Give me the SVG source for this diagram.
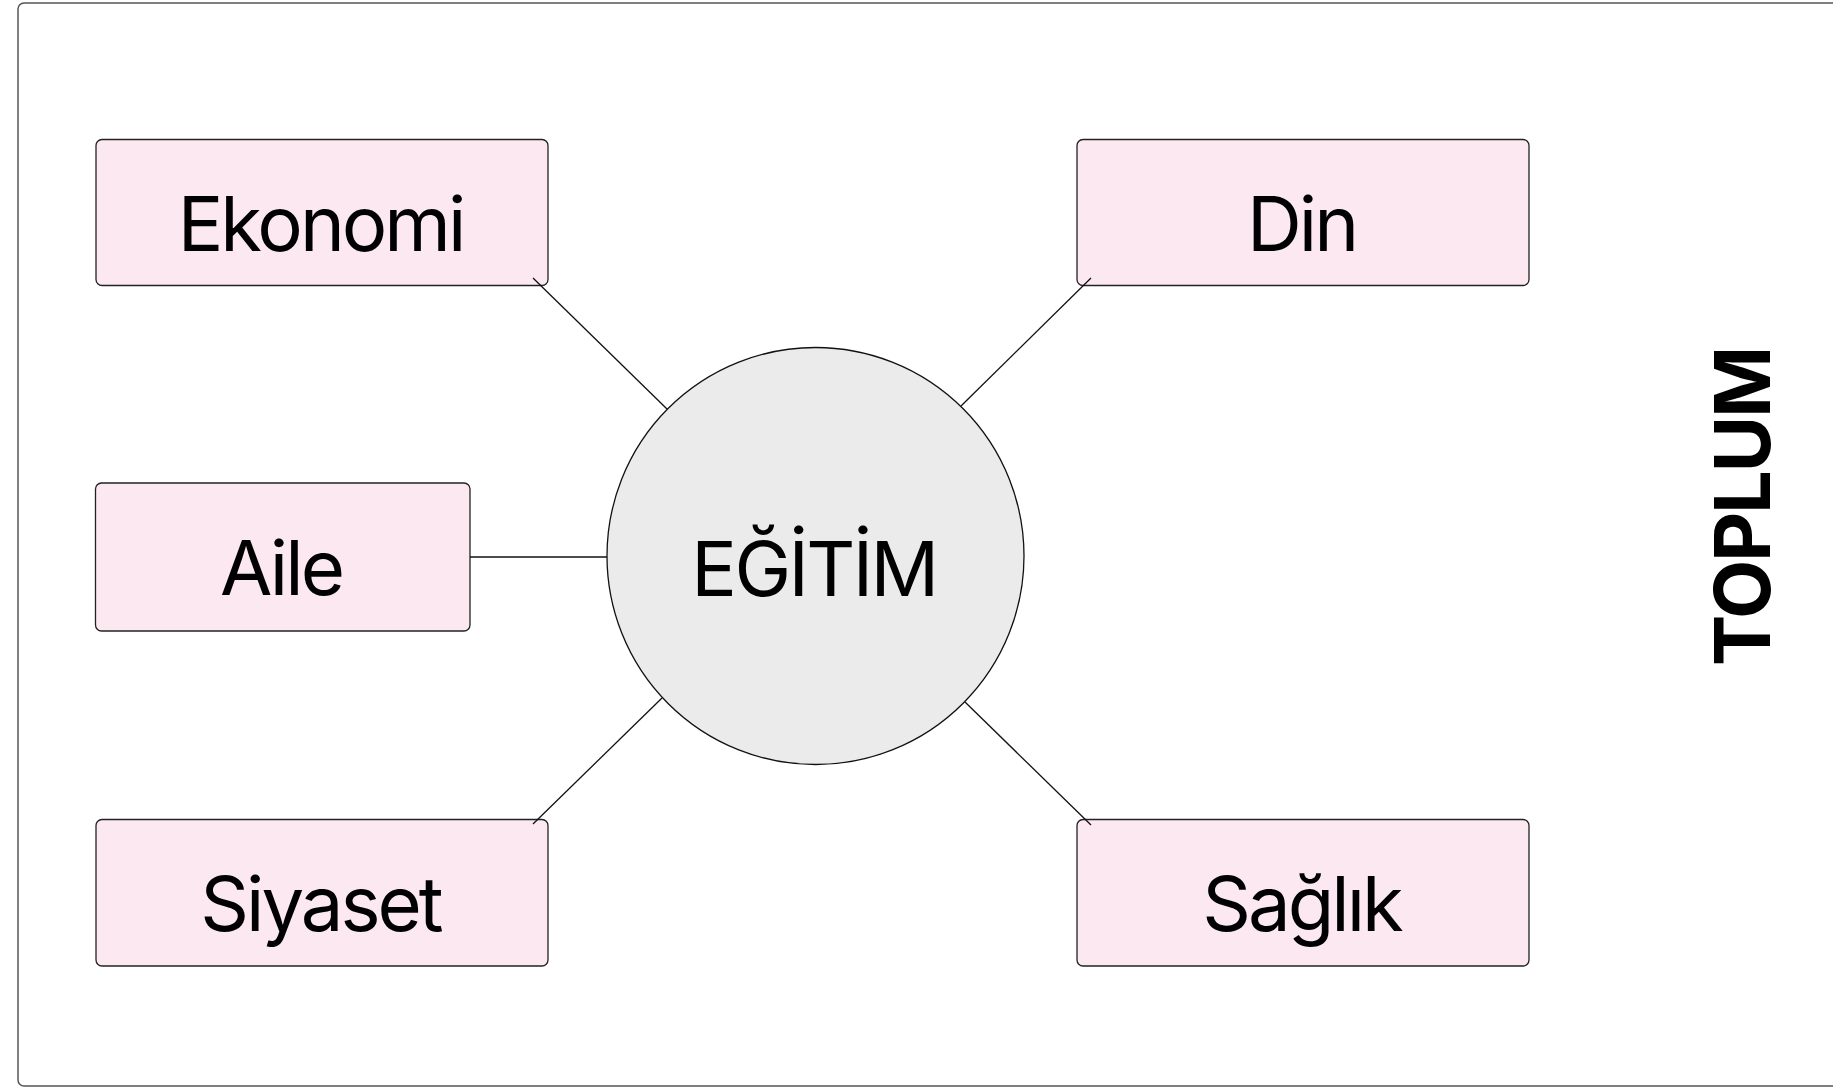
<svg xmlns="http://www.w3.org/2000/svg" width="1833" height="1088" viewBox="0 0 1833 1088">
<style>
.box{fill:#fce8f1;stroke:#222;stroke-width:1.3}
.lbl{font-family:Inter,"Liberation Sans",sans-serif;font-size:76px;fill:#000;text-anchor:middle;letter-spacing:-3px}
.conn{stroke:#111;stroke-width:1.3;fill:none}
</style>
<rect x="0" y="0" width="1833" height="1088" fill="#fff"/>
<rect id="frame" x="18" y="3" width="1840" height="1083" rx="6" fill="none" stroke="#555" stroke-width="1.5"/>
<g id="egitim">
<circle cx="815.5" cy="556" r="208.5" fill="#ebebeb" stroke="#111" stroke-width="1.3"/>
<text class="lbl" x="814" y="596" style="letter-spacing:-2.6px">EĞİTİM</text>
</g>
<g id="ekonomi">
<rect class="box" x="96" y="139.5" width="452" height="146" rx="6"/>
<text class="lbl" x="320.5" y="251">Ekonomi</text>
</g>
<g id="din">
<rect class="box" x="1077" y="139.5" width="452" height="146" rx="6"/>
<text class="lbl" x="1301.5" y="251">Din</text>
</g>
<g id="aile">
<rect class="box" x="95.5" y="483" width="374.5" height="148" rx="6"/>
<text class="lbl" x="281" y="595">Aile</text>
</g>
<g id="siyaset">
<rect class="box" x="96" y="819.5" width="452" height="146.5" rx="6"/>
<text class="lbl" x="320.5" y="931">Siyaset</text>
</g>
<g id="saglik">
<rect class="box" x="1077" y="819.5" width="452" height="146.5" rx="6"/>
<text class="lbl" x="1301.5" y="931">Sağlık</text>
</g>
<g id="toplum">
<text transform="translate(1770,507) rotate(-90)" style="font-family:Inter,'Liberation Sans',sans-serif;font-size:77px;font-weight:bold;text-anchor:middle;fill:#000;letter-spacing:-2px">TOPLUM</text>
</g>
<g id="connectors">
<line class="conn" x1="533" y1="278" x2="667" y2="409"/>
<line class="conn" x1="1091" y1="278" x2="961" y2="406"/>
<line class="conn" x1="470" y1="557" x2="607" y2="557"/>
<line class="conn" x1="533" y1="824" x2="662" y2="698"/>
<line class="conn" x1="1091" y1="825" x2="965" y2="702"/>
</g>
</svg>
